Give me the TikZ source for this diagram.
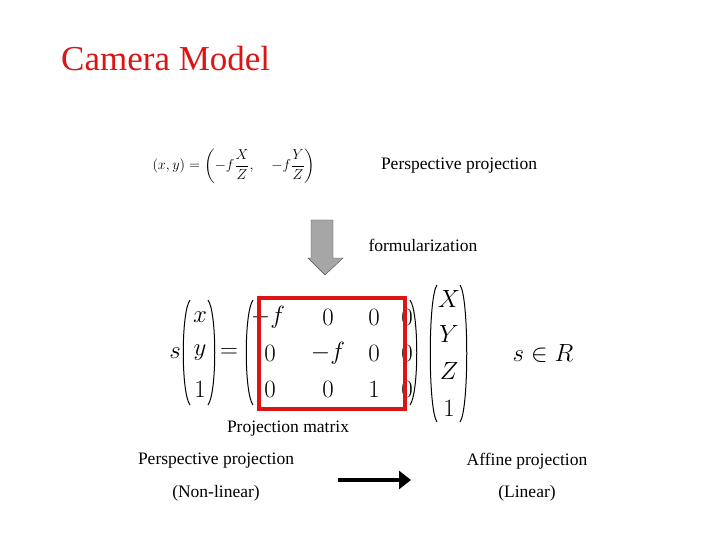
\documentclass[tikz,border=0pt]{standalone}
\usepackage{amsmath}
\usepackage{fontspec}
\setmainfont{Liberation Serif}
\usetikzlibrary{arrows.meta}
\definecolor{tred}{RGB}{220,20,20}
\tikzset{lbl/.style={font=\fontsize{17.5}{20}\selectfont,inner sep=0pt},
 el/.style={font=\fontsize{24}{28}\selectfont,inner sep=0pt},
 par/.style={line width=1pt}}
\newcommand{\lp}[3]{\draw[par] (#1+6,#2) .. controls (#1-3,#2+12) and (#1-3,#3-12) .. (#1+6,#3);}
\newcommand{\rp}[3]{\draw[par] (#1-6,#2) .. controls (#1+3,#2+12) and (#1+3,#3-12) .. (#1-6,#3);}
\begin{document}
\begin{tikzpicture}[x=1pt,y=-1pt]
\useasboundingbox (0,0) rectangle (720,540);
\node[text=tred,font=\fontsize{35}{40}\selectfont,anchor=west,inner sep=0pt] (title) at (61,59) {Camera Model};
\node[inner sep=0pt,font=\fontsize{15.5}{18}\selectfont] (eq1) at (234,166) {$(x,y)=\left(-f\dfrac{X}{Z},\quad -f\dfrac{Y}{Z}\right)$};
\node[lbl] (pp) at (459,166) {Perspective projection};
\node[lbl] (form) at (423,245) {formularization};
\draw[fill=gray!70,draw=black!70] (311,220) -- (333,220) -- (333,258) -- (343,258) -- (325,275) -- (308,258) -- (311,258) -- cycle;
% big equation
\node[el] (s) at (175,353) {$s$};
\lp{184}{300}{405} \rp{214}{300}{405}
\node[el] (v1) at (200,317) {$x$};
\node[el] (v2) at (200,353) {$y$};
\node[el] (v3) at (200,389) {$1$};
\node[el] (eq) at (229,353) {$=$};
\lp{247}{300}{405} \rp{416}{300}{405}
\node[el] (m11) at (268,317) {$-f$};
\node[el] (m12) at (328,317) {$0$};
\node[el] (m13) at (374,317) {$0$};
\node[el] (m14) at (407,317) {$0$};
\node[el] (m21) at (270,353) {$0$};
\node[el] (m22) at (328,353) {$-f$};
\node[el] (m23) at (374,353) {$0$};
\node[el] (m24) at (407,353) {$0$};
\node[el] (m31) at (270,389) {$0$};
\node[el] (m32) at (328,389) {$0$};
\node[el] (m33) at (374,389) {$1$};
\node[el] (m34) at (407,389) {$0$};
\lp{431}{285}{422} \rp{466}{285}{422}
\node[el] (w1) at (449,299) {$X$};
\node[el] (w2) at (449,334) {$Y$};
\node[el] (w3) at (449,371) {$Z$};
\node[el] (w4) at (449,408) {$1$};
\draw[tred,line width=4pt] (259,298) rectangle (405,409);
\node[el] (sR) at (543,353) {$s\in R$};
\node[lbl] (pm) at (288,429) {Projection matrix};
\node[lbl] (pp2) at (216,461) {Perspective projection};
\node[lbl] (nl) at (216,493) {(Non-linear)};
\node[lbl] (ap) at (527,461) {Affine projection};
\node[lbl] (lin) at (527,493) {(Linear)};
\coordinate (a1) at (338,480); \coordinate (a2) at (411,480);
\draw[line width=4.5pt,-{Triangle[length=12pt,width=18pt]}] (a1) -- (a2);
\end{tikzpicture}
\end{document}
